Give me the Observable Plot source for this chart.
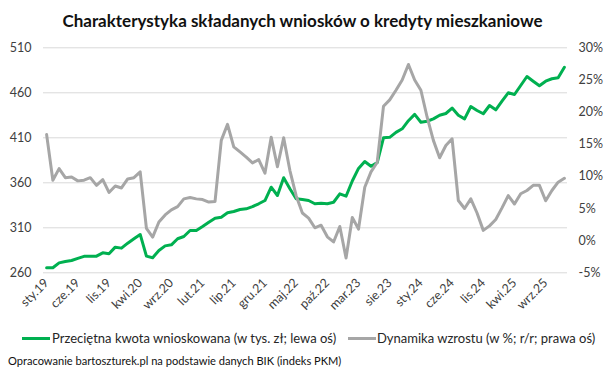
<!DOCTYPE html>
<html>
<head>
<meta charset="utf-8">
<script src="https://cdn.jsdelivr.net/npm/d3@7"></script>
<script src="https://cdn.jsdelivr.net/npm/@observablehq/plot@0.6"></script>
<style>
  html, body { margin: 0; padding: 0; background: #fff; }
  #wrap { position: relative; width: 605px; height: 372px; overflow: hidden; font-family: Lato, "Open Sans", sans-serif; }
  #title { position: absolute; left: 0; top: 11px; width: 605px; text-align: center; font-weight: bold; font-size: 17px; line-height: 20px; color: #111; }
  #chart { position: absolute; left: 0; top: 0; }
  .leg { position: absolute; top: 330px; font-size: 13px; line-height: 16px; color: #262626; white-space: nowrap; }
  .sw { position: absolute; top: 337px; width: 28px; height: 3px; }
  #caption { position: absolute; left: 8px; top: 353px; font-size: 11.1px; line-height: 16px; color: #111; white-space: nowrap; }
</style>
</head>
<body>
<div id="wrap">
  <div id="chart"></div>
  <div id="title"></div>
  <div class="sw" id="sw1" style="left:22px;background:#00b050"></div>
  <div class="leg" id="leg1" style="left:52px"></div>
  <div class="sw" id="sw2" style="left:348px;background:#a6a6a6"></div>
  <div class="leg" id="leg2" style="left:377px"></div>
  <div id="caption"></div>
</div>
<script>
// ---- Data (Jan 2019 – Dec 2025, monthly) ----
const title = "Charakterystyka składanych wniosków o kredyty mieszkaniowe";
const seriesNames = ["Przeciętna kwota wnioskowana (w tys. zł; lewa oś)", "Dynamika wzrostu (w %; r/r; prawa oś)"];
const caption = "Opracowanie bartoszturek.pl na podstawie danych BIK (indeks PKM)";

const tickLabels = ["sty.19","cze.19","lis.19","kwi.20","wrz.20","lut.21","lip.21","gru.21","maj.22","paź.22","mar.23","sie.23","sty.24","cze.24","lis.24","kwi.25","wrz.25"];
const tickIndex = [0,5,10,15,20,25,30,35,40,45,50,55,60,65,70,75,80];
const leftTicks = [260, 310, 360, 410, 460, 510];
const rightTicks = [-5, 0, 5, 10, 15, 20, 25, 30];

// Przeciętna kwota wnioskowana (tys. zł)
const kwota = [
  265.6, 265.6, 271.0, 272.5, 273.7, 276.0, 278.3, 278.5, 278.5, 282.2,
  281.1, 288.5, 287.4, 292.9, 297.8, 302.6, 278.5, 276.8, 284.8, 289.9,
  291.1, 297.8, 300.3, 307.0, 307.0, 311.4, 316.2, 320.7, 321.8, 326.7,
  328.1, 330.3, 331.1, 333.5, 336.7, 340.3, 355.1, 345.9, 365.6, 353.3,
  342.2, 341.4, 340.3, 336.7, 337.3, 336.7, 338.4, 347.7, 345.1, 362.0,
  376.0, 383.7, 378.4, 382.5, 410.0, 410.5, 416.0, 420.0, 429.0, 436.0,
  427.3, 428.4, 431.0, 435.0, 437.0, 443.0, 435.0, 431.0, 444.8, 440.3,
  436.7, 445.9, 441.1, 450.7, 460.0, 458.1, 468.1, 478.1, 472.9, 467.8,
  472.9, 475.6, 476.7, 488.4
];
// Dynamika wzrostu (% r/r)
const dynamika = [
  16.5, 9.4, 11.2, 9.8, 9.9, 9.3, 9.4, 9.8, 8.6, 9.5,
  7.5, 8.5, 8.2, 9.6, 9.8, 10.7, 1.9, 0.55, 2.9, 4.0,
  4.8, 5.3, 6.5, 6.7, 6.5, 6.4, 6.0, 6.1, 15.6, 18.1,
  14.6, 13.8, 13.0, 12.1, 12.6, 10.5, 16.1, 11.5, 16.0, 10.9,
  7.0, 4.3, 3.5, 2.0, 2.4, 0.6, -0.2, 2.2, -2.7, 3.6,
  1.8, 8.3, 10.7, 12.2, 20.9, 21.9, 23.4, 25.0, 27.4, 25.0,
  23.4, 19.2, 15.6, 12.9, 14.8, 15.85, 6.25, 5.0, 6.5, 4.3,
  1.6, 2.3, 3.3, 5.1, 7.0, 5.7, 7.3, 7.8, 8.6, 8.6,
  6.2, 7.8, 9.1, 9.7
];

// right (percent) axis mapped onto the left scale: -5% ↔ 260, 30% ↔ 510
const toLeft = p => 260 + (p + 5) * 250 / 35;
const fromLeft = v => (v - 260) * 35 / 250 - 5;

const data = kwota.map((v, i) => ({i, kwota: v, dyn: dynamika[i], dynL: toLeft(dynamika[i])}));

document.getElementById("title").textContent = title;
document.getElementById("leg1").textContent = seriesNames[0];
document.getElementById("leg2").textContent = seriesNames[1];
document.getElementById("caption").textContent = caption;

const chart = Plot.plot({
  width: 605,
  height: 322,
  marginLeft: 43,
  marginRight: 38,
  marginTop: 47.3,
  marginBottom: 49.7,
  style: {fontFamily: "Lato, 'Open Sans', sans-serif", fontSize: "12.5px", color: "#595959", background: "transparent", overflow: "visible"},
  x: {domain: [-0.5, kwota.length - 0.5], axis: null},
  y: {domain: [260, 510], axis: null},
  marks: [
    Plot.gridY(leftTicks, {stroke: "#d9d9d9", strokeOpacity: 1, strokeWidth: 1}),
    Plot.axisY(leftTicks, {anchor: "left", tickSize: 0, tickPadding: 12, fontSize: 12.5, fill: "#404040", label: null}),
    Plot.axisY(rightTicks.map(toLeft), {anchor: "right", tickSize: 0, tickPadding: 11, fontSize: 12.5, fill: "#404040", label: null,
      tickFormat: v => Math.round(fromLeft(v)) + "%"}),
    Plot.axisX(tickIndex, {anchor: "bottom", tickSize: 0, tickPadding: 8, tickRotate: -45, fontSize: 12.5, fill: "#404040", label: null,
      tickFormat: d => tickLabels[tickIndex.indexOf(d)]}),
    Plot.lineY(data, {x: "i", y: "kwota", stroke: "#00b050", strokeWidth: 3}),
    Plot.lineY(data, {x: "i", y: "dynL", stroke: "#a6a6a6", strokeWidth: 3})
  ]
});
document.getElementById("chart").appendChild(chart);
</script>
</body>
</html>
